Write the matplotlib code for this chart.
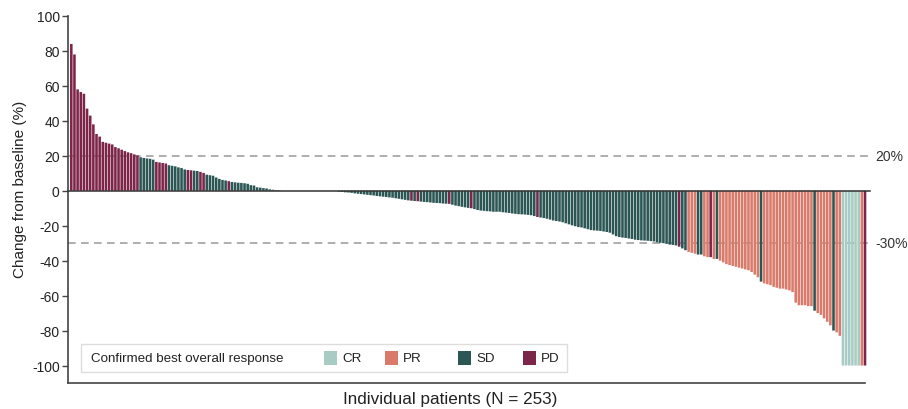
import matplotlib
matplotlib.use("Agg")
import matplotlib.pyplot as plt
from matplotlib.patches import Rectangle
import numpy as np

plt.rcParams['font.family'] = ['Liberation Sans', 'DejaVu Sans']
plt.rcParams['axes.unicode_minus'] = False

# best percentage change from baseline, one value per patient (sorted)
change_pos = [84, 78, 58, 56.5, 55.5, 47, 43, 38, 32.5, 31,
              28, 27.5, 27, 26.5, 25, 24.3, 23.5, 22.7, 22, 21.5,
              20.8, 20.2, 19.2, 18.8, 18.5, 18.3, 17.8, 16.5, 16.2, 15.9,
              15.6, 14.6, 14.3, 14.0, 13.4, 13.0, 12.2, 11.9, 11.7, 11.5,
              11.3, 10.8, 10.2, 9.2, 8.9, 8.6, 7.6, 6.8, 6.2, 5.9,
              5.5, 5.0, 4.8, 4.6, 4.5, 4.3, 4.0, 3.2, 3.0, 2.0,
              1.8, 1.5, 1.3, 0.8, 0.6, 0.4, 0.3]
change_zero = [0] * 18
change_neg = [-0.5, -0.7, -0.9, -1.0, -1.2,
              -1.5, -1.7, -1.9, -2.1, -2.3, -2.5, -2.7, -3.0, -3.2, -3.4,
              -3.6, -3.8, -4.0, -4.3, -4.6, -4.9, -5.2, -5.5, -5.7, -5.9,
              -6.0, -6.2, -6.4, -6.5, -6.7, -6.9, -7.0, -7.1, -7.3, -7.4,
              -7.5, -8.0, -8.5, -8.8, -9.2, -9.5, -9.8, -10.0, -10.5, -11.0,
              -11.3, -11.5, -11.7, -11.8, -12.0, -12.0, -12.0, -12.3, -12.5, -12.7,
              -13.0, -13.2, -13.4, -13.5, -13.6, -13.8, -14.0, -14.5, -15.0, -15.3,
              -15.6, -16.0, -16.5, -17.0, -17.3, -17.6, -18.0, -18.6, -19.2, -19.8,
              -20.3, -20.8, -21.0, -21.5, -22.0, -22.5, -22.7, -22.8, -23.0, -23.3,
              -23.6, -24.0, -25.0, -26.0, -26.5, -26.8, -27.0, -27.3, -27.6, -28.0,
              -28.2, -28.4, -28.5, -28.6, -28.8, -29.0, -29.5, -29.8, -30.0, -30.3,
              -30.8, -31.0, -31.3]
change_tail = [-32, -33, -34, -35, -35.5, -36, -36.5, -36.5, -37.5, -38,
               -38, -39, -39, -40, -41, -42, -42.5, -43, -43.5, -44,
               -44.5, -45, -45.5, -46.5, -48, -49.5, -52, -53, -53.5, -54,
               -55, -55.5, -56, -56, -56.5, -57, -58, -64, -65.5, -65.5,
               -65.5, -66, -66, -68.6, -70, -71, -73, -75, -77, -80,
               -81, -83, -100, -100, -100, -100, -100, -100, -100, -100]

# confirmed best overall response, as runs in the same order
response_runs = [("PD", 22), ("SD", 5), ("PD", 4), ("SD", 6), ("PD", 2),
                 ("SD", 2), ("PD", 2), ("SD", 7), ("PD", 1), ("SD", 57),
                 ("PD", 1), ("SD", 1), ("PD", 1), ("SD", 9), ("PD", 1),
                 ("SD", 6), ("PD", 1), ("SD", 20), ("PD", 1), ("SD", 44),
                 ("PD", 1), ("SD", 2), ("PR", 3), ("SD", 2), ("PR", 2),
                 ("PD", 1), ("PR", 1), ("SD", 1), ("PR", 13), ("SD", 1),
                 ("PR", 16), ("SD", 1), ("PR", 5), ("SD", 1), ("PR", 2),
                 ("CR", 6), ("PR", 1), ("PD", 1)]

categories = ["CR", "PR", "SD", "PD"]
colors = {"CR": "#a8cbc3", "PR": "#d97a6b", "SD": "#2b5654", "PD": "#7d2549"}

change = np.array(change_pos + change_zero + change_neg + change_tail)
response = [r for r, n in response_runs for _ in range(n)]
n_pat = len(change)

fig = plt.figure(figsize=(9.08, 4.10), dpi=100)
ax = fig.add_axes([68 / 908, 26 / 410, 797 / 908, 367 / 410])

x = np.arange(n_pat)
bars = ax.bar(x, change, width=0.82, color=[colors[r] for r in response],
              linewidth=0, clip_on=False, zorder=2)
for b in bars:
    b.set_snap(False)

ax.set_xlim(-1.05, 252)
ax.set_ylim(-110, 100)
ax.set_yticks(np.arange(-100, 101, 20))
ax.set_xticks([])
ax.tick_params(axis='y', direction='out', length=4, width=1,
               color='#444444', labelsize=10, labelcolor='#222222', pad=2)

for s in ['top', 'right']:
    ax.spines[s].set_visible(False)
for s in ['left', 'bottom']:
    ax.spines[s].set_color('#444444')
    ax.spines[s].set_linewidth(1.2)

# zero line and response thresholds
tr = ax.get_yaxis_transform()
ax.plot([0, 1.006], [0, 0], transform=tr, color='#333333', lw=1.1,
        clip_on=False, zorder=3)
for yv, lab in [(20, "20%"), (-30, "-30%")]:
    ax.plot([0, 1.009], [yv, yv], transform=tr, color='#999999', lw=1.1,
            dashes=(5, 3.5), clip_on=False, zorder=1)
    ax.text(1.013, yv, lab, transform=tr, fontsize=10, color='#333333',
            va='center', ha='left')

ax.set_ylabel("Change from baseline (%)", fontsize=11, color='#222222')
ax.yaxis.set_label_coords(-0.052, 0.529, transform=ax.transAxes)
ax.set_xlabel("Individual patients (N = 253)", fontsize=12.3,
              color='#222222')
ax.xaxis.set_label_coords(0.48, -0.022, transform=ax.transAxes)
ax.xaxis.label.set_va('top')

# legend box
def ax_x(px):
    return (px - 68) / 797

def ax_y(py):
    return (384 - py) / 367

ax.add_patch(Rectangle((ax_x(81), ax_y(373)), ax_x(567) - ax_x(81),
                       ax_y(345) - ax_y(373), transform=ax.transAxes,
                       facecolor='white', edgecolor='#dddddd', lw=1,
                       zorder=4))
ax.text(ax_x(91), ax_y(359), "Confirmed best overall response",
        transform=ax.transAxes, fontsize=9.6, color='#222222',
        va='center', ha='left', zorder=5)
for cat, px in zip(categories, [324, 385, 458, 523]):
    ax.add_patch(Rectangle((ax_x(px), ax_y(366)), ax_x(px + 13) - ax_x(px),
                           ax_y(352) - ax_y(366), transform=ax.transAxes,
                           facecolor=colors[cat], lw=0, zorder=5))
    ax.text(ax_x(px + 18), ax_y(359), cat, transform=ax.transAxes,
            fontsize=9.6, color='#222222', va='center', ha='left', zorder=5)

fig.savefig("out.png", dpi=100)
